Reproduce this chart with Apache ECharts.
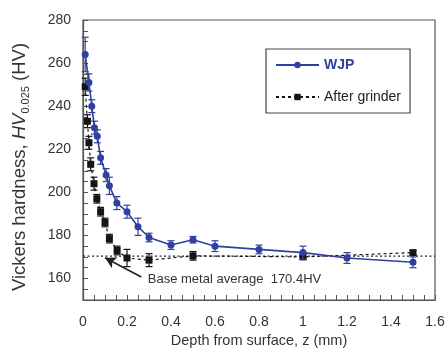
<!DOCTYPE html>
<html><head><meta charset="utf-8">
<script src="https://cdn.jsdelivr.net/npm/echarts@6/dist/echarts.min.js"></script>
<style>html,body{margin:0;padding:0;background:#fff}#c{width:448px;height:356px}</style>
</head><body><div id="c"></div>
<script>
// Data
const wjpDepth = [0.01, 0.027, 0.04, 0.052, 0.065, 0.08, 0.105, 0.12, 0.154, 0.2, 0.25, 0.3, 0.4, 0.5, 0.6, 0.8, 1.0, 1.2, 1.5];
const wjpHV    = [264, 251, 240, 230, 226, 216, 208, 203, 195, 191, 184, 179, 175.5, 178, 175, 173.5, 172, 169.5, 167.5];
const wjpErr   = [8, 4, 3, 3, 3, 3, 3, 4, 3, 3, 4, 2, 2, 1.5, 2.5, 2, 3, 2.5, 2.5];
const grDepth  = [0.01, 0.02, 0.027, 0.035, 0.05, 0.063, 0.08, 0.1, 0.12, 0.155, 0.2, 0.3, 0.5, 1.0, 1.5];
const grHV     = [249, 233, 223, 213, 204, 197, 191, 186, 178.5, 173, 169.5, 168.5, 170.5, 170, 172];
const grErr    = [4, 3, 3, 3, 3, 2, 2, 2, 2, 2, 4, 3, 2, 1, 1];
const baseHV = 170.4;
const baseLabel = 'Base metal average  170.4HV';
const seriesNames = ['WJP', 'After grinder'];
const xName = 'Depth from surface, z (mm)';

const blue = '#3040a0';
const black = '#151515';
const font = 'Liberation Sans, Arial, sans-serif';

const chart = echarts.init(document.getElementById('c'), null, {renderer: 'canvas'});

function pts(xs, ys) { return xs.map((x, i) => [x, ys[i]]); }
function errs(xs, ys, es) { return xs.map((x, i) => [x, ys[i] - es[i], ys[i] + es[i]]); }
function errRender(color) {
  return function (params, api) {
    const x = api.value(0);
    const lo = api.coord([x, api.value(1)]);
    const hi = api.coord([x, api.value(2)]);
    const w = 3.5;
    const st = {stroke: color, lineWidth: 1.2};
    return {type: 'group', children: [
      {type: 'line', shape: {x1: lo[0], y1: lo[1], x2: hi[0], y2: hi[1]}, style: st},
      {type: 'line', shape: {x1: lo[0] - w, y1: lo[1], x2: lo[0] + w, y2: lo[1]}, style: st},
      {type: 'line', shape: {x1: hi[0] - w, y1: hi[1], x2: hi[0] + w, y2: hi[1]}, style: st}
    ]};
  };
}

const option = {
  animation: false,
  textStyle: {fontFamily: font},
  grid: {left: 83, right: 13, top: 20, bottom: 56, show: true, borderColor: '#555', borderWidth: 1.2, backgroundColor: 'transparent'},
  xAxis: {
    type: 'value', min: 0, max: 1.6, interval: 0.05,
    name: xName, nameLocation: 'middle', nameGap: 33,
    nameTextStyle: {fontSize: 14.5, color: '#333', fontFamily: font},
    axisLine: {lineStyle: {color: '#555', width: 1.2}},
    axisTick: {inside: true, length: 5, lineStyle: {color: '#555'}},
    axisLabel: {margin: 15, fontSize: 14, color: '#333', fontFamily: font,
      formatter: v => { const r = Math.round(v * 20); return r % 4 === 0 ? String(+(v.toFixed(1))) : ''; }},
    splitLine: {show: false}
  },
  yAxis: {
    type: 'value', min: 150, max: 280, interval: 5,
    name: '{a|Vickers hardness, }{i|HV}{s|0.025}{a| (HV)}',
    nameLocation: 'middle', nameGap: 52, nameRotate: 90,
    nameTextStyle: {color: '#333', fontFamily: font, padding: [0, 14, 0, 0],
      rich: {
        a: {fontSize: 18.5, color: '#333', fontFamily: font, lineHeight: 22, verticalAlign: 'middle'},
        i: {fontSize: 18.5, color: '#333', fontFamily: font, fontStyle: 'italic', lineHeight: 22, verticalAlign: 'middle'},
        s: {fontSize: 11, color: '#333', fontFamily: font, lineHeight: 22, verticalAlign: 'bottom'}
      }},
    axisLine: {lineStyle: {color: '#555', width: 1.2}},
    axisTick: {inside: true, length: 5, lineStyle: {color: '#555'}},
    axisLabel: {margin: 12, fontSize: 14, color: '#333', fontFamily: font,
      formatter: v => (Math.round(v) % 20 === 0 && v > 150) ? String(Math.round(v)) : ''},
    splitLine: {show: false}
  },
  legend: {
    orient: 'vertical', left: 266, top: 49,
    padding: [9, 9, 9, 9], itemGap: 18, itemWidth: 43, itemHeight: 8,
    backgroundColor: '#fff', borderColor: '#444', borderWidth: 1.2,
    textStyle: {fontSize: 14, color: '#222', fontFamily: font},
    data: [
      {name: seriesNames[0], textStyle: {color: blue, fontWeight: 'bold'}},
      {name: seriesNames[1]}
    ]
  },
  series: [
    {
      name: 'base', type: 'line', silent: true, symbol: 'none', z: 1,
      data: [[0, baseHV], [1.6, baseHV]],
      lineStyle: {color: '#222', width: 1.3, type: [2, 2.5]},
      markLine: {
        silent: true, symbol: ['none', 'arrow'], symbolSize: [9, 11],
        label: {show: false},
        lineStyle: {color: '#222', width: 1.6, type: 'solid'},
        data: [[{coord: [0.265, 160.7]}, {coord: [0.1, 169.6]}]]
      }
    },
    {
      name: 'errGr', type: 'custom', silent: true, z: 2,
      renderItem: errRender(black), data: errs(grDepth, grHV, grErr)
    },
    {
      name: seriesNames[1], type: 'line', z: 3,
      data: pts(grDepth, grHV),
      symbol: 'rect', symbolSize: 7,
      itemStyle: {color: black},
      lineStyle: {color: black, width: 1.2, type: [3, 3]}
    },
    {
      name: 'errWjp', type: 'custom', silent: true, z: 4,
      renderItem: errRender(blue), data: errs(wjpDepth, wjpHV, wjpErr)
    },
    {
      name: seriesNames[0], type: 'line', z: 5,
      data: pts(wjpDepth, wjpHV),
      symbol: 'circle', symbolSize: 7,
      itemStyle: {color: blue},
      lineStyle: {color: blue, width: 1.6}
    }
  ]
};
chart.setOption(option);

const p = chart.convertToPixel({gridIndex: 0}, [0.29, 159.3]);
chart.setOption({
  graphic: [{
    type: 'text', left: p[0], top: p[1] - 9, z: 10,
    style: {text: baseLabel, font: '13px ' + font, fill: '#333',
      backgroundColor: '#fff', padding: [2, 4, 2, 1]}
  }]
});
</script>
</body></html>
